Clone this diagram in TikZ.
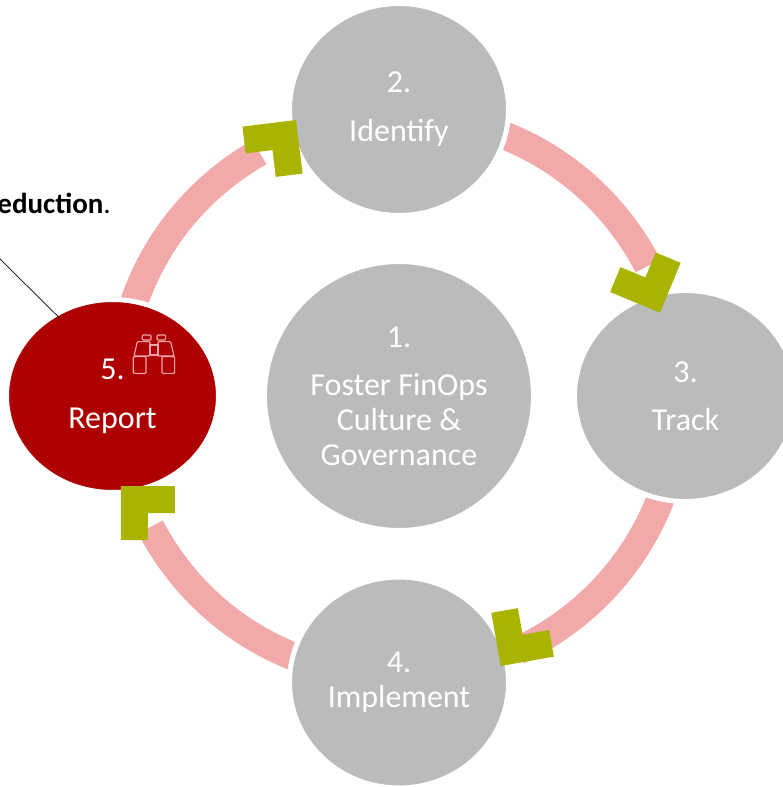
\documentclass[tikz,border=0pt]{standalone}
\usepackage{fontspec}
\setmainfont{Carlito}
\usepackage{tikz}
\usetikzlibrary{shapes.geometric}

\definecolor{stepgrey}{HTML}{BABBBD}
\definecolor{stepred}{HTML}{AE0000}
\definecolor{ringpink}{HTML}{F1A9AA}
\definecolor{tipgreen}{HTML}{A9B400}
\definecolor{iconpink}{HTML}{EFA6AC}

\tikzset{
	stage/.style={ellipse, fill=stepgrey, draw=white, line width=5pt, inner sep=0pt, text=white, align=center, font=\fontsize{32}{35}\selectfont},
	ring/.style={draw=ringpink, line width=28pt, bend left=#1, looseness=.9},
	pics/arrowtip/.style={code={
		\fill[tipgreen] (-54,0) -- (0,0) -- (0,-54) -- (-27,-54) -- (-27,-27) -- (-54,-27) -- cycle;
	}},
	pics/binoculars/.style={code={
		\foreach \s in {-1,1} {
			\draw[iconpink, line width=1.1pt, rounded corners=1pt, xscale=\s]
				(3,15) rectangle (11.7,10)
				(4,8.3) -- (16.7,8.3) -- (20,-6) -- (4,-6) -- cycle
				(8,-6.7) -- (20.7,-6.7) -- (20.7,-23.3) -- (8,-23.3) -- cycle;
		}
		\draw[iconpink, line width=1.1pt] (-4,5) rectangle (4,-5);
	}}
}

\begin{document}
\begin{tikzpicture}[x=1pt, y=1pt, node distance=286.5pt]
			\useasboundingbox (-399,-391) rectangle (383,396);

			% ring pieces lie under the circles
			\coordinate (from2) at (75:281);
			\coordinate (to3) at (27.6:281);
			\coordinate (from3) at (-15:281);
			\coordinate (to4) at (-65:281);
			\coordinate (from4) at (255:281);
			\coordinate (to5) at (207.8:281);
			\coordinate (from5) at (165:281);
			\coordinate (to2) at (119.8:281);

			\path
				(from2) edge [ring=23.7] (to3)
				(from3) edge [ring=25] (to4)
				(from4) edge [ring=23.6] (to5)
				(from5) edge [ring=22.6] (to2)
			;

			\node[stage, minimum width=269pt, minimum height=269pt] (1) at (0,0) {1.\\[13pt]Foster FinOps\\Culture \&\\Governance};
			\node[stage, minimum width=219pt, minimum height=212pt] (2) [above of=1] {2.\\[14pt]Identify};
			\node[stage, minimum width=222pt, minimum height=211pt] (3) [right of=1] {3.\\[13pt]Track};
			\node[stage, minimum width=219pt, minimum height=211pt] (4) [below of=1] {4.\\Implement};
			\node[stage, fill=stepred, minimum width=212pt, minimum height=193pt] (5) [left of=1] {5.\\[14pt]Report};

			\pic[rotate=7] (tip2) at (-103,276) {arrowtip};
			\pic[rotate=-112.5] (tip3) at (261,83.3) {arrowtip};
			\pic[rotate=190] (tip4) at (101.7,-270) {arrowtip};
			\pic[rotate=90] (tip5) at (-278,-90) {arrowtip};

			\pic (icon) at (-245,46) {binoculars};

			\node[anchor=base east, inner sep=0pt, font=\fontsize{29}{32}\selectfont] (note) at (-288,182) {\textbf{eduction}.};
			\coordinate (lead) at (-401,139);
			\draw[black, line width=.7pt, shorten >=-8pt] (lead) -- (5.125);
		\end{tikzpicture}
\end{document}
